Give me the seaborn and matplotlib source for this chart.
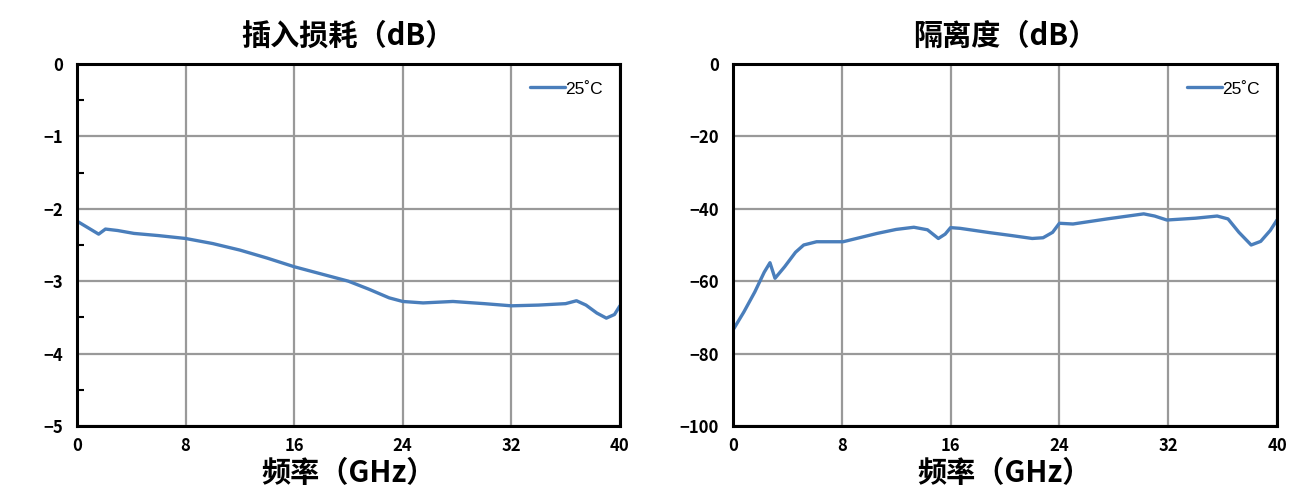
import numpy as np
import pandas as pd
import matplotlib
matplotlib.use('Agg')
import matplotlib.pyplot as plt
from matplotlib.ticker import MultipleLocator
import seaborn as sns

# insertion loss (dB) vs frequency (GHz)
il_freq = [0, 0.8, 1.6, 2.1, 3.0, 4.2, 6.0, 8.0, 10.0, 12.0, 14.0, 16.0, 18.0, 20.0,
           21.5, 23.0, 24.0, 25.5, 27.7, 30.0, 32.0, 34.0, 36.0, 36.8, 37.5, 38.3, 39.0, 39.6, 40.0]
il_db = [-2.17, -2.26, -2.35, -2.28, -2.30, -2.34, -2.37, -2.41, -2.48, -2.57, -2.68, -2.80,
         -2.90, -3.00, -3.11, -3.23, -3.28, -3.30, -3.28, -3.31, -3.34, -3.33, -3.31, -3.27,
         -3.33, -3.44, -3.51, -3.46, -3.34]

# isolation (dB) vs frequency (GHz)
iso_freq = [0, 0.8, 1.6, 2.3, 2.72, 3.09, 3.8, 4.6, 5.2, 6.15, 8.1, 10.6, 12.0, 13.3, 14.3,
            15.1, 15.6, 16.0, 16.7, 18.9, 20.5, 22.0, 22.8, 23.5, 24.0, 25.0, 27.5, 30.2,
            31.0, 31.9, 34.0, 35.6, 36.4, 37.2, 38.1, 38.8, 39.5, 40.0]
iso_db = [-73.5, -68.5, -63.0, -57.5, -54.9, -59.2, -56.0, -52.0, -50.0, -49.1, -49.1, -46.8,
          -45.7, -45.1, -45.8, -48.2, -47.0, -45.2, -45.4, -46.6, -47.4, -48.2, -48.0, -46.5,
          -44.0, -44.2, -42.8, -41.4, -42.0, -43.1, -42.6, -42.0, -42.8, -46.5, -50.0, -49.0,
          -46.0, -43.1]

titles = ['插入损耗（dB）', '隔离度（dB）']
xlabel = '频率（GHz）'
legend_label = '25˚C'
x_ticks = [0, 8, 16, 24, 32, 40]

sns.set_style('white')
plt.rcParams['font.family'] = ['Noto Sans CJK SC', 'DejaVu Sans']
plt.rcParams['axes.unicode_minus'] = True
plt.rcParams['text.color'] = 'black'
plt.rcParams['xtick.color'] = 'black'
plt.rcParams['ytick.color'] = 'black'
plt.rcParams['axes.labelcolor'] = 'black'

line_color = '#4a7ebb'
grid_color = '#999999'

fig = plt.figure(figsize=(13.04, 4.93), dpi=100)
ax1 = fig.add_axes([0.0590, 0.1359, 0.4164, 0.7343])
ax2 = fig.add_axes([0.5621, 0.1359, 0.4172, 0.7343])

df1 = pd.DataFrame({'f': il_freq, 'v': il_db})
df2 = pd.DataFrame({'f': iso_freq, 'v': iso_db})

sns.lineplot(data=df1, x='f', y='v', ax=ax1, color=line_color, lw=2.4, label=legend_label)
sns.lineplot(data=df2, x='f', y='v', ax=ax2, color=line_color, lw=2.4, label=legend_label)

for ax, title, ylim, ystep in [(ax1, titles[0], (-5, 0), 1), (ax2, titles[1], (-100, 0), 20)]:
    ax.set_xlim(0, 40)
    ax.set_ylim(*ylim)
    ax.set_xticks(x_ticks)
    ax.yaxis.set_major_locator(MultipleLocator(ystep))
    ax.grid(True, color=grid_color, lw=1.6)
    ax.set_axisbelow(True)
    for s in ax.spines.values():
        s.set_color('black')
        s.set_linewidth(2.2)
        s.set_visible(True)
    ax.tick_params(axis='both', which='major', length=0, labelsize=12, pad=8)
    ax.tick_params(axis='y', pad=10)
    ax.set_title(title, fontsize=21, fontweight='bold', pad=14, color='black')
    ax.set_xlabel(xlabel, fontsize=21, fontweight='bold', labelpad=2, color='black')
    ax.set_ylabel('')
    for lab in ax.get_xticklabels() + ax.get_yticklabels():
        lab.set_fontweight('bold')
    leg = ax.legend(loc='upper right', frameon=False, fontsize=12.5, handlelength=2.0,
                    handletextpad=0.0, borderaxespad=0.6)
    for t in leg.get_texts():
        t.set_family(['Liberation Sans', 'DejaVu Sans'])

# minor inward ticks on the insertion-loss y axis
ax1.yaxis.set_minor_locator(MultipleLocator(0.5))
ax1.tick_params(axis='y', which='minor', direction='in', length=5, width=1.5, color='black', left=True)

fig.savefig('out.png', dpi=100)
